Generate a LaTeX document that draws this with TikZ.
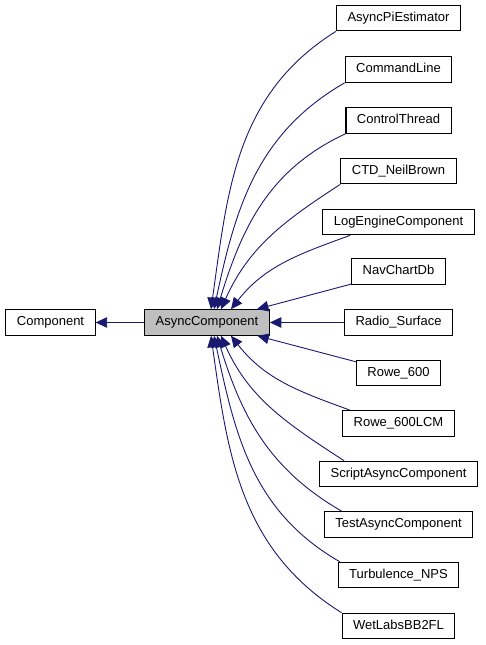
\documentclass[tikz,border=0pt]{standalone}
\usepackage{fontspec}
\setmainfont{Liberation Sans}
\usetikzlibrary{arrows.meta}

\definecolor{edgeblue}{HTML}{191970}
\definecolor{basegray}{HTML}{BFBFBF}

\tikzset{
  cls/.style={draw=black, line width=1.1pt, fill=white, minimum height=25.5pt,
    inner xsep=11pt, inner ysep=0pt, text height=9.5pt, text depth=2.7pt,
    font=\fontsize{13}{15}\selectfont},
  basecls/.style={cls, fill=basegray},
  inh/.style={draw=edgeblue, line width=0.9pt,
    -{Triangle[length=11.5pt,width=10.5pt]}}
}

\begin{document}
\begin{tikzpicture}[x=1pt,y=1pt]
            \useasboundingbox (0,0) rectangle (485,-645);

            \node[cls] (comp) at (50.5,-322.5) {Component};
            \node[basecls] (async) at (207,-322.5) {AsyncComponent};

            \node[cls] (piest) at (398.5,-18) {AsyncPiEstimator};
            \node[cls] (cmdline) at (398.5,-69.5) {CommandLine};
            \node[cls] (ctrlthread) at (398.5,-120.5) {ControlThread};
            \node[cls] (ctd) at (398.5,-171) {CTD\_NeilBrown};
            \node[cls] (logeng) at (398.5,-222) {LogEngineComponent};
            \node[cls] (navchart) at (398.5,-271.5) {NavChartDb};
            \node[cls] (radio) at (398.5,-322.5) {Radio\_Surface};
            \node[cls] (rowe) at (398.5,-373) {Rowe\_600};
            \node[cls] (rowelcm) at (398.5,-423.5) {Rowe\_600LCM};
            \node[cls] (scriptasync) at (398.5,-474) {ScriptAsyncComponent};
            \node[cls] (testasync) at (398.5,-524.5) {TestAsyncComponent};
            \node[cls] (turb) at (398.5,-575) {Turbulence\_NPS};
            \node[cls] (wetlabs) at (398.5,-626) {WetLabsBB2FL};

            \draw[inh] (async) -- (comp);

            \draw[inh] (piest.south west) to[out=212, in=82] ([xshift=4pt]async.north);
            \draw[inh] (cmdline.south west) to[out=210, in=78] ([xshift=7pt]async.north);
            \draw[inh] (ctrlthread.south west) to[out=205, in=73] ([xshift=10pt]async.north);
            \draw[inh] (ctd.south west) to[out=213, in=66] ([xshift=14pt]async.north);
            \draw[inh] ([xshift=28pt]logeng.south west) to[out=200, in=52] ([xshift=24pt]async.north);
            \draw[inh] (navchart) -- (async);
            \draw[inh] (radio) -- (async);
            \draw[inh] (rowe) -- (async);
            \draw[inh] ([xshift=8pt]rowelcm.north west) to[out=160, in=-52] ([xshift=24pt]async.south);
            \draw[inh] ([xshift=25pt]scriptasync.north west) to[out=147, in=-66] ([xshift=14pt]async.south);
            \draw[inh] ([xshift=18pt]testasync.north west) to[out=150, in=-73] ([xshift=10pt]async.south);
            \draw[inh] ([xshift=2pt]turb.north west) to[out=150, in=-78] ([xshift=7pt]async.south);
            \draw[inh] (wetlabs.north west) to[out=148, in=-82] ([xshift=4pt]async.south);
\end{tikzpicture}
\end{document}
